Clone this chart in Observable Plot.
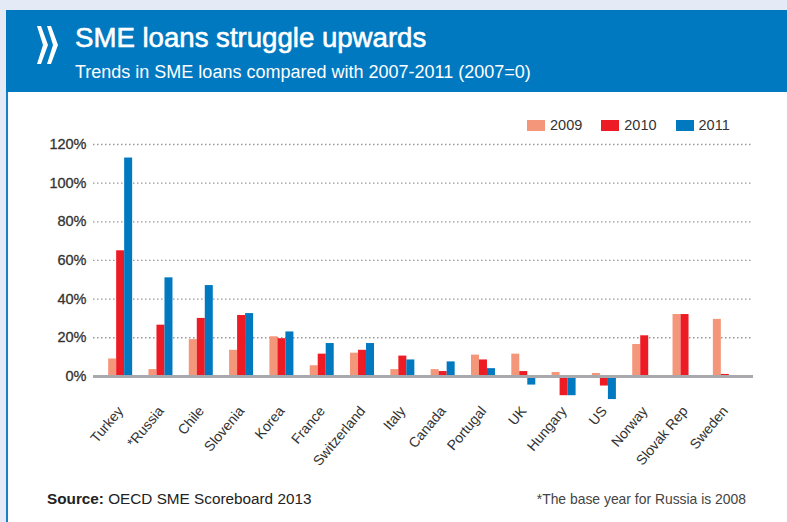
<!DOCTYPE html>
<html>
<head>
<meta charset="utf-8">
<script src="https://cdn.jsdelivr.net/npm/d3@7"></script>
<script src="https://cdn.jsdelivr.net/npm/@observablehq/plot@0.6"></script>
<style>
  body { margin: 0; font-family: "Liberation Sans", Arial, sans-serif; }
  #page { position: absolute; left: 0; top: 0; width: 787px; height: 522px; background: #e4ebf6; overflow: hidden; }
  #panel { position: absolute; left: 6px; top: 10px; width: 779px; height: 512px; background: #fff; border-left: 2px solid #1a7fc4; }
  #header { position: absolute; left: 6px; top: 10px; width: 781px; height: 82px; background: #0079c1; }
  #title { position: absolute; left: 75px; top: 23px; color: #fff; font-size: 27.6px; line-height: 30px; white-space: nowrap; -webkit-text-stroke: 0.6px #fff; }
  #subtitle { position: absolute; left: 75px; top: 62px; color: #fff; font-size: 18px; line-height: 20px; white-space: nowrap; }
  #logo { position: absolute; left: 37px; top: 26px; }
  #legend { position: absolute; left: 527px; top: 117px; font-size: 14.5px; color: #333; white-space: nowrap; }
  #legend span.item { display: inline-block; margin-right: 19px; }
  #legend span.sw { display: inline-block; width: 18px; height: 11px; vertical-align: -1px; margin-right: 5px; }
  #chart { position: absolute; left: 0; top: 100px; }
  #source { position: absolute; left: 47px; top: 490px; font-size: 15.3px; color: #222; white-space: nowrap; }
  #note { position: absolute; right: 41px; top: 491px; font-size: 13.9px; color: #444; white-space: nowrap; }
</style>
</head>
<body>
<div id="page">
  <div id="panel"></div>
  <div id="header"></div>
  <svg id="logo" width="24" height="38" viewBox="0 0 24 38">
    <polygon points="0,0 4,0 11,19 4,38 0,38 6,19" fill="#fff"/>
    <polygon points="10,0 14,0 21,19 14,38 10,38 16,19" fill="#fff"/>
  </svg>
  <div id="title">SME loans struggle upwards</div>
  <div id="subtitle">Trends in SME loans compared with 2007-2011 (2007=0)</div>
  <div id="legend"></div>
  <div id="chart"></div>
  <div id="source"><b>Source:</b> OECD SME Scoreboard 2013</div>
  <div id="note">*The base year for Russia is 2008</div>
</div>
<script>
const countries = ["Turkey", "*Russia", "Chile", "Slovenia", "Korea", "France", "Switzerland", "Italy", "Canada", "Portugal", "UK", "Hungary", "US", "Norway", "Slovak Rep", "Sweden"];
const years = ["2009", "2010", "2011"];
const v2009 = [9, 3.5, 19, 13.5, 20.5, 5.5, 12, 3.5, 3.5, 11, 11.5, 2, 1.5, 16.5, 32, 29.5];
const v2010 = [65, 26.5, 30, 31.5, 19.5, 11.5, 13.5, 10.5, 2.5, 8.5, 2.5, -10, -5, 21, 32, 1];
const v2011 = [113, 51, 47, 32.5, 23, 17, 17, 8.5, 7.5, 4, -4.5, -10, -12, null, null, null];
const yTicks = [0, 20, 40, 60, 80, 100, 120];
const colors = ["#f4967a", "#ed1c24", "#0079c1"];

const series = [v2009, v2010, v2011];
const data = countries.flatMap((c, i) => years.map((y, j) => ({country: c, year: y, value: series[j][i]})))
  .filter(d => d.value != null);

const W = 787, mL = 93, mR = 34, xInL = 7, xInR = 8;
const bw = (W - mL - mR - xInL - xInR) / countries.length;
const barW = 8;

const legend = document.getElementById("legend");
years.forEach((y, j) => {
  const it = document.createElement("span");
  it.className = "item";
  it.innerHTML = `<span class="sw" style="background:${colors[j]}"></span>${y}`;
  legend.appendChild(it);
});

const chart = Plot.plot({
  width: W,
  height: 385,
  marginLeft: mL,
  marginRight: mR,
  marginTop: 44,
  marginBottom: 84,
  style: {fontFamily: "'Liberation Sans', Arial, sans-serif", fontSize: "14px", color: "#333", background: "transparent"},
  x: {domain: countries, padding: 0, round: false, insetLeft: xInL, insetRight: xInR, tickSize: 0, tickPadding: 7, tickRotate: -50, label: null},
  y: {domain: [-13, 120], ticks: yTicks, tickSize: 0, tickPadding: 7, tickFormat: d => d + "%", label: null},
  color: {domain: years, range: colors},
  marks: [
    Plot.ruleY(yTicks.filter(t => t !== 0), {stroke: "#999", strokeDasharray: "1.5,2.5", strokeWidth: 1.3}),
    ...years.map((y, j) => {
      const inL = bw / 2 - 1.5 * barW + j * barW;
      return Plot.barY(data.filter(d => d.year === y), {
        x: "country", y: "value", fill: "year",
        insetLeft: inL, insetRight: bw - inL - barW
      });
    }),
    Plot.ruleY([0], {stroke: "#a7a9ac", strokeWidth: 3})
  ]
});
chart.querySelectorAll("g[aria-label='y-axis tick label'] text, g[aria-label='y-axis'] text").forEach(t => {
  t.style.fontSize = "14.5px";
  t.setAttribute("stroke", "#333");
  t.setAttribute("stroke-width", "0.3");
});
document.getElementById("chart").appendChild(chart);
</script>
</body>
</html>
